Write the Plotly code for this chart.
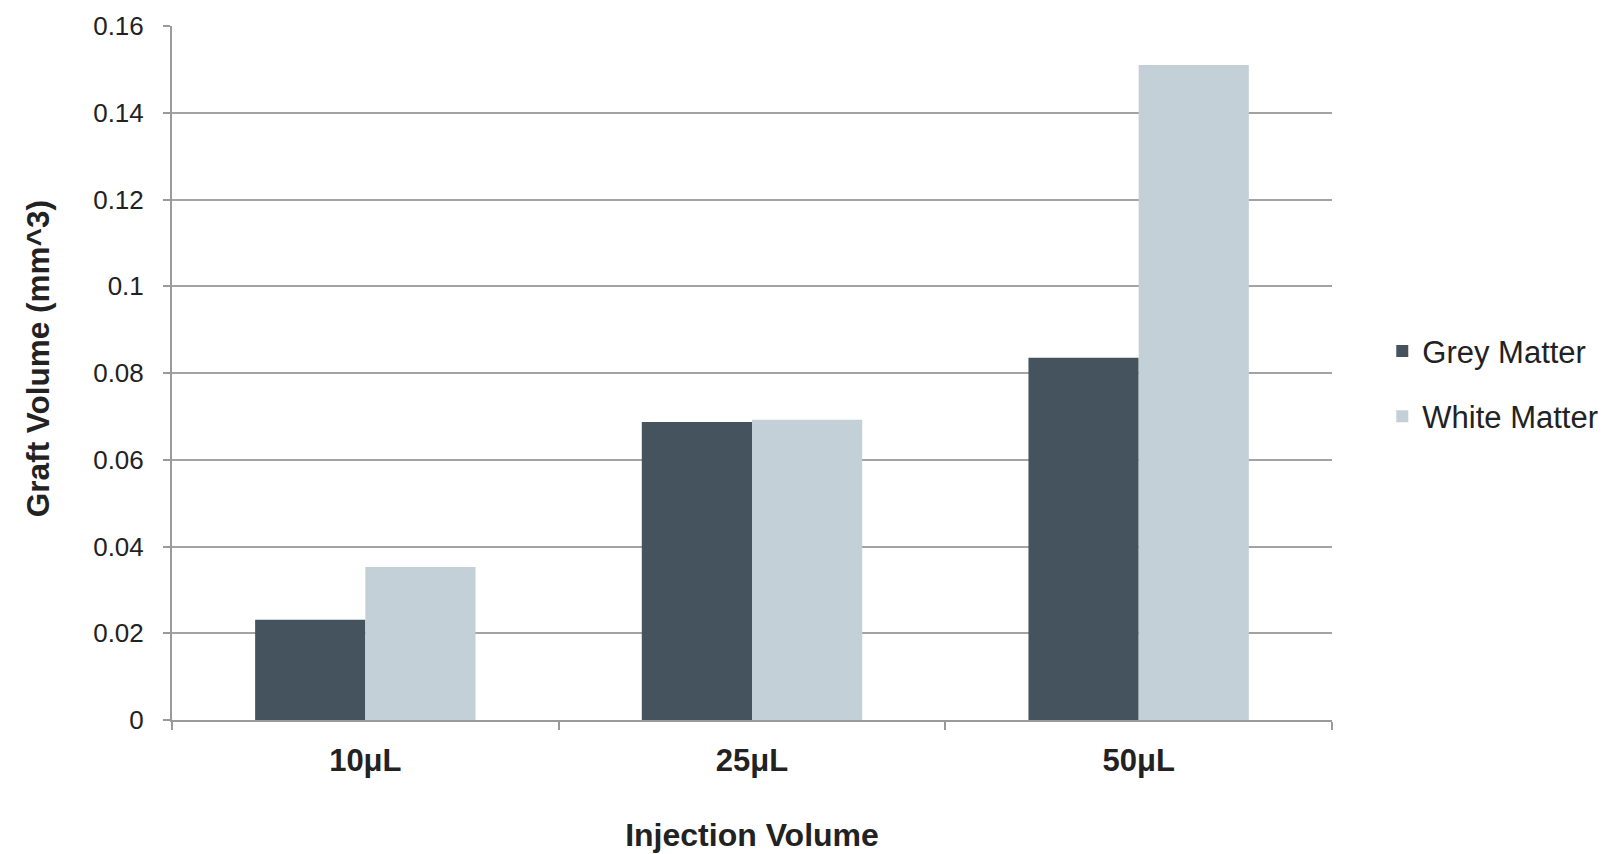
import plotly.graph_objects as go

categories = ["10μL", "25μL", "50μL"]
grey_matter = [0.0231, 0.0687, 0.0835]
white_matter = [0.0353, 0.0692, 0.1510]
y_ticks = [0, 0.02, 0.04, 0.06, 0.08, 0.1, 0.12, 0.14, 0.16]
y_tick_text = ["0", "0.02", "0.04", "0.06", "0.08", "0.1", "0.12", "0.14", "0.16"]

FONT = "Liberation Sans, Arial, sans-serif"

fig = go.Figure()
fig.add_trace(go.Bar(x=categories, y=grey_matter, name="Grey Matter",
                     marker=dict(color="#45535e", line=dict(width=0)),
                     legendgroup="g1"))
fig.add_trace(go.Bar(x=categories, y=white_matter, name="White Matter",
                     marker=dict(color="#c4d0d8", line=dict(width=0)),
                     legendgroup="g2"))

fig.update_layout(
    width=1613, height=854,
    margin=dict(l=164, r=289, t=18, b=142, autoexpand=False),
    paper_bgcolor="white", plot_bgcolor="white",
    barmode="group", bargap=0.43, bargroupgap=0,
    font=dict(family=FONT, color="#222222"),
    legend=dict(xref="container", yref="container", x=0.852, y=0.56,
                xanchor="left", yanchor="middle",
                font=dict(family=FONT, size=31, color="#222222"),
                tracegroupgap=22, traceorder="grouped", bgcolor="rgba(0,0,0,0)"),
    showlegend=True,
    annotations=[dict(
        text="Graft Volume (mm^3)", textangle=-90,
        xref="paper", yref="paper", x=-0.1155, y=0.52,
        xanchor="center", yanchor="middle", showarrow=False,
        font=dict(family=FONT, size=31.5, color="#222222", weight="bold"),
    )],
)
fig.update_xaxes(
    type="category",
    showline=True, linecolor="#9a9a9a", linewidth=2,
    ticks="outside", tickson="boundaries", ticklen=8, tickcolor="#9a9a9a", tickwidth=2,
    tickfont=dict(family=FONT, size=31, color="#222222", weight="bold"),
    ticklabelstandoff=12,
    title=dict(text="Injection Volume", font=dict(family=FONT, size=32, color="#222222", weight="bold"),
               standoff=46),
    showgrid=False,
)
fig.update_yaxes(
    range=[0, 0.16],
    tickmode="array", tickvals=y_ticks, ticktext=y_tick_text,
    showline=True, linecolor="#9a9a9a", linewidth=2,
    ticks="outside", ticklen=7, tickcolor="#9a9a9a", tickwidth=2,
    showgrid=True, gridcolor="#a3a3a3", gridwidth=2,
    zeroline=False,
    tickfont=dict(family=FONT, size=26, color="#222222"),
    ticklabelstandoff=14,
)

fig.write_html("out.html")
